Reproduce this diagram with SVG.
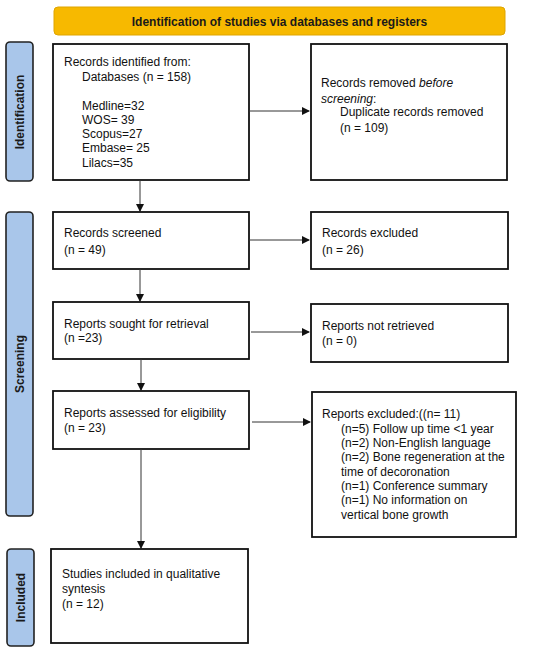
<svg xmlns="http://www.w3.org/2000/svg" width="550" height="651" viewBox="0 0 550 651">
<defs>
<style>
.box{fill:#fff;stroke:#111;stroke-width:1.8}
.side{fill:#a9c6ea;stroke:#222;stroke-width:1.6}
.t{font-family:"Liberation Sans",Arial,sans-serif;font-size:12px;fill:#111}
.st{font-family:"Liberation Sans",Arial,sans-serif;font-size:12px;font-weight:bold;fill:#1a1a1a}
.c{stroke:#333;stroke-width:1;fill:none;marker-end:url(#ah)}
</style>
<marker id="ah" markerWidth="8" markerHeight="8" refX="7" refY="4" orient="auto" markerUnits="userSpaceOnUse">
<path d="M0,0 L8,4 L0,8 Z" fill="#111"/>
</marker>
</defs>
<rect width="550" height="651" fill="#fff"/>

<g id="banner">
<rect x="54" y="7" width="451" height="28" rx="4" fill="#f7b900" stroke="#dfa500" stroke-width="1"/>
<text class="st" x="279.5" y="25.5" text-anchor="middle">Identification of studies via databases and registers</text>
</g>

<g id="side-identification">
<rect class="side" x="6" y="42" width="27" height="139" rx="4"/>
<text class="st" transform="translate(24,112) rotate(-90)" text-anchor="middle">Identification</text>
</g>
<g id="side-screening">
<rect class="side" x="6" y="212" width="27" height="304" rx="4"/>
<text class="st" transform="translate(24,364) rotate(-90)" text-anchor="middle">Screening</text>
</g>
<g id="side-included">
<rect class="side" x="7" y="549" width="27" height="97" rx="4"/>
<text class="st" transform="translate(25,597.5) rotate(-90)" text-anchor="middle">Included</text>
</g>

<g id="identified">
<rect class="box" x="53" y="44" width="196" height="136"/>
<text class="t" x="64" y="66">Records identified from:</text>
<text class="t" x="82" y="81">Databases (n = 158)</text>
<text class="t" x="82" y="110">Medline=32</text>
<text class="t" x="82" y="124">WOS= 39</text>
<text class="t" x="82" y="138">Scopus=27</text>
<text class="t" x="82" y="152">Embase= 25</text>
<text class="t" x="82" y="167">Lilacs=35</text>
</g>

<g id="removed">
<rect class="box" x="311" y="44" width="196" height="136"/>
<text class="t" x="321" y="87">Records removed <tspan font-style="italic">before</tspan></text>
<text class="t" x="321" y="103"><tspan font-style="italic">screening</tspan>:</text>
<text class="t" x="340" y="116">Duplicate records removed</text>
<text class="t" x="340" y="132">(n = 109)</text>
</g>

<g id="screened">
<rect class="box" x="53" y="212" width="196" height="57"/>
<text class="t" x="64" y="237">Records screened</text>
<text class="t" x="64" y="254">(n = 49)</text>
</g>

<g id="excluded">
<rect class="box" x="311" y="212" width="197" height="57"/>
<text class="t" x="322" y="237">Records excluded</text>
<text class="t" x="322" y="254">(n = 26)</text>
</g>

<g id="sought">
<rect class="box" x="53" y="302" width="196" height="57"/>
<text class="t" x="64" y="328">Reports sought for retrieval</text>
<text class="t" x="64" y="342">(n =23)</text>
</g>

<g id="not-retrieved">
<rect class="box" x="311" y="304" width="197" height="58"/>
<text class="t" x="322" y="330">Reports not retrieved</text>
<text class="t" x="322" y="345">(n = 0)</text>
</g>

<g id="assessed">
<rect class="box" x="53" y="391" width="196" height="58"/>
<text class="t" x="64" y="417">Reports assessed for eligibility</text>
<text class="t" x="64" y="432">(n = 23)</text>
</g>

<g id="reports-excluded">
<rect class="box" x="312" y="392" width="204" height="145"/>
<text class="t" x="322" y="418">Reports excluded:((n= 11)</text>
<text class="t" x="341" y="433">(n=5) Follow up time &lt;1 year</text>
<text class="t" x="341" y="447">(n=2) Non-English language</text>
<text class="t" x="341" y="461">(n=2) Bone regeneration at the</text>
<text class="t" x="341" y="476">time of decoronation</text>
<text class="t" x="341" y="490">(n=1) Conference summary</text>
<text class="t" x="341" y="504">(n=1) No information on</text>
<text class="t" x="341" y="519">vertical bone growth</text>
</g>

<g id="included">
<rect class="box" x="51" y="549" width="197" height="94"/>
<text class="t" x="62" y="578">Studies included in qualitative</text>
<text class="t" x="62" y="593">syntesis</text>
<text class="t" x="62" y="608">(n = 12)</text>
</g>

<g id="connectors">
<path class="c" d="M249,111 H309"/>
<path class="c" d="M140,180 V211"/>
<path class="c" d="M249,240 H309"/>
<path class="c" d="M140,269 V301"/>
<path class="c" d="M251,332 H309"/>
<path class="c" d="M141,359 V390"/>
<path class="c" d="M252,422 H310"/>
<path class="c" d="M141,449 V548"/>
</g>
</svg>
